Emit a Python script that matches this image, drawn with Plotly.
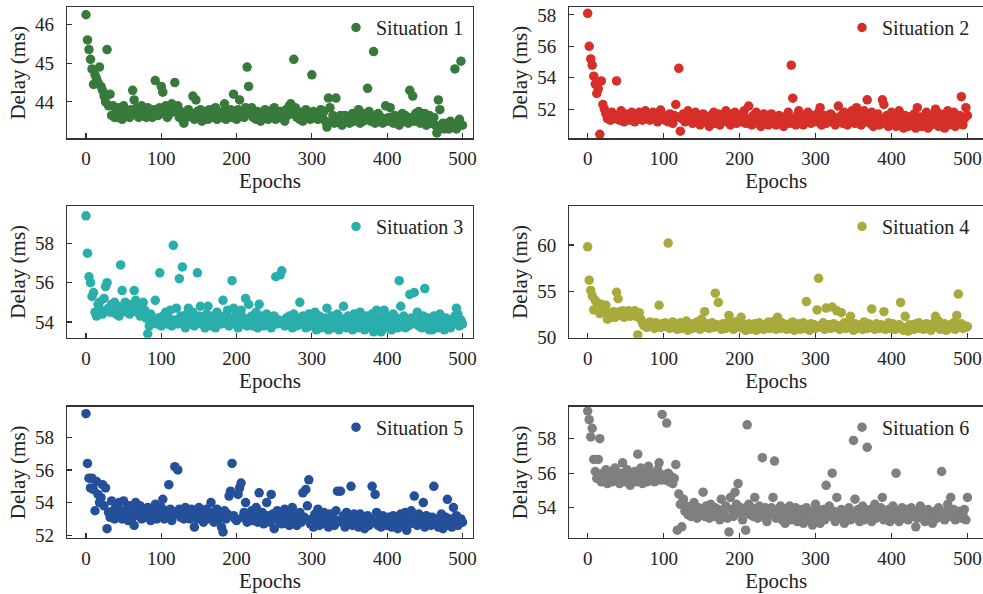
import plotly.graph_objects as go

epochs = list(range(0, 501, 2))

s1 = [46.25, 45.6, 45.35, 45.1, 44.85, 44.45, 44.7, 44.6, 44.5, 44.9,
      44.4, 44.3, 44.15, 44.0, 45.35, 43.9, 44.2, 43.65, 43.9, 43.6,
      43.75, 43.6, 43.85, 43.7, 43.55, 43.9, 43.8, 43.65, 43.75, 43.6,
      43.8, 44.3, 44.05, 43.7, 43.85, 43.6, 43.75, 43.9, 43.65, 43.8,
      43.6, 43.85, 43.7, 43.75, 43.6, 43.8, 44.55, 43.7, 43.65, 43.85,
      44.4, 44.25, 43.7, 43.9, 43.6, 43.85, 43.7, 43.95, 43.75, 44.5,
      43.8, 43.9, 43.6, 43.75, 43.55, 43.45, 43.7, 43.6, 43.8, 43.65,
      43.7, 44.15, 43.55, 44.05, 43.75, 43.6, 43.8, 43.5, 43.7, 43.65,
      43.75, 43.55, 43.8, 43.65, 43.7, 43.6, 43.85, 43.55, 43.7, 43.65,
      43.6, 43.75, 43.95, 43.55, 43.7, 43.65, 43.8, 43.6, 44.2, 43.7,
      43.55, 43.8, 44.05, 43.65, 43.75, 43.6, 43.85, 44.9, 44.4, 43.7,
      43.85, 43.6, 43.7, 43.55, 43.75, 43.65, 43.5, 43.7, 43.6, 43.8,
      43.65, 43.55, 43.75, 43.6, 43.7, 43.85, 43.55, 43.65, 43.6, 43.75,
      43.6, 43.7, 43.5, 43.8, 43.65, 43.9, 43.95, 43.7, 45.1, 43.85,
      43.6, 43.75, 43.55, 43.7, 43.5, 43.65, 43.8, 43.6, 43.7, 43.55,
      44.7, 43.75, 43.6, 43.7, 43.55, 43.65, 43.8, 43.6, 43.75, 43.5,
      43.35, 44.1, 43.85, 43.5, 43.65, 43.45, 44.1, 43.6, 43.5, 43.65,
      43.4, 43.55, 43.65, 43.5, 43.6, 43.45, 43.55, 43.7, 43.5, 43.6,
      43.55, 43.8, 43.45, 43.6, 43.5, 43.7, 43.55, 44.35, 43.75, 43.5,
      43.6, 45.3, 43.45, 43.55, 43.7, 43.5, 43.6, 43.45, 43.55, 43.9,
      43.5, 43.6, 43.85, 43.55, 43.45, 43.65, 43.5, 43.6, 43.4, 43.55,
      43.7, 43.5, 43.65, 43.55, 43.45, 44.3, 43.6, 44.15, 43.5, 43.7,
      43.55, 43.75, 43.45, 43.6, 43.5, 43.7, 43.4, 43.55, 43.65, 43.45,
      43.5, 43.6, 43.4, 43.2, 44.05, 43.8, 43.35, 43.45, 43.3, 43.4,
      43.45, 43.3, 43.5, 43.35, 43.4, 44.85, 43.3, 43.45, 43.55, 45.05,
      43.4]

s2 = [58.1, 56.0, 55.2, 54.8, 54.1, 53.6, 53.0, 53.3, 50.4, 53.8,
      52.3, 52.0, 51.7, 51.4, 51.6, 51.3, 51.8, 51.5, 51.4, 53.8,
      51.6, 51.3, 51.9, 51.5, 51.2, 51.7, 51.4, 51.6, 51.3, 51.8,
      51.5, 51.2, 51.7, 51.4, 51.8, 51.5, 51.3, 51.6, 51.9, 51.4,
      51.6, 51.3, 51.5, 51.8, 51.4, 51.6, 51.2, 51.5, 51.95, 51.4,
      51.6, 51.3, 51.5, 51.2, 51.7, 51.4, 51.1, 51.6, 52.3, 51.5,
      54.6, 50.6, 51.4, 51.7, 51.2, 51.5, 51.9, 51.3, 51.6, 51.1,
      51.5, 51.8, 51.3, 51.6, 51.0, 51.4, 51.7, 51.2, 51.5, 51.3,
      50.9, 51.6, 51.3, 51.8, 51.1, 51.4, 51.7, 51.0, 51.5, 51.3,
      51.6, 51.9, 51.2, 51.5, 51.0, 51.7, 51.3, 51.8, 51.1, 51.4,
      51.6, 51.2, 51.5, 51.9, 51.1, 51.4, 52.2, 51.3, 51.0, 51.6,
      51.4, 51.8, 51.1, 51.5, 50.9, 51.3, 51.7, 51.2, 51.5, 51.0,
      51.4, 51.7, 51.2, 51.5, 51.0, 51.3, 51.6, 51.1, 51.4, 50.9,
      51.5, 51.2, 51.8, 51.1, 54.8, 52.7, 51.4, 51.0, 51.6, 51.9,
      51.3, 51.6, 51.0, 51.5, 51.2, 51.8, 51.4, 51.1, 51.6, 51.3,
      51.5, 51.2, 51.8, 52.1, 51.0, 51.4, 51.6, 51.1, 51.5, 51.3,
      51.7, 51.2, 51.5, 51.0, 51.4, 52.2, 51.3, 51.6, 51.1, 51.8,
      51.4, 51.0, 51.6, 51.2, 51.9, 51.5, 51.1, 52.1, 51.3, 51.7,
      51.0, 51.5, 51.9, 51.2, 52.6, 51.4, 51.1, 51.8, 50.9, 51.5,
      51.2, 51.7, 51.0, 51.4, 52.6, 52.3, 51.1, 51.6, 50.9, 51.3,
      51.8, 51.1, 51.5, 50.9, 51.3, 51.9, 51.0, 51.4, 50.8, 51.6,
      51.2, 50.9, 51.5, 51.0, 51.3, 51.7, 50.8, 52.1, 51.2, 51.5,
      50.9, 51.4, 51.1, 51.8, 50.8, 51.3, 51.0, 51.6, 51.2, 52.0,
      51.4, 50.9, 51.7, 51.1, 51.5, 50.8, 51.3, 51.9, 51.0, 51.4,
      51.2, 51.8, 50.9, 51.5, 51.1, 51.6, 52.8, 51.0, 51.4, 52.1,
      51.6]

s3 = [59.4, 57.5, 56.3, 56.0, 55.3, 55.5, 54.5, 54.3, 54.9, 55.0,
      54.6, 54.4, 55.2, 55.8, 56.0, 54.7, 54.5, 54.9, 54.6, 55.0,
      54.4, 54.8, 54.3, 56.9, 55.6, 54.7, 55.0, 54.5, 54.9, 54.4,
      54.8, 54.6, 55.6, 55.1, 54.5, 54.9, 54.3, 54.7, 55.0, 54.6,
      54.2, 53.4, 53.8, 54.4, 54.0, 54.1, 55.1, 53.9, 54.2, 56.5,
      53.8, 54.3, 54.0, 54.5, 53.9, 54.2, 54.6, 53.8, 57.9, 54.1,
      54.7, 53.9, 56.2, 54.3, 56.8, 54.0, 53.7, 54.4, 54.7, 53.9,
      54.2, 54.5, 53.8, 54.1, 56.5, 54.3, 54.8, 53.9, 54.2, 53.7,
      54.4, 54.8, 54.0, 53.8, 54.3, 54.1, 53.7, 54.5, 54.0, 54.2,
      53.9, 55.1, 54.3, 54.0, 54.6, 53.8, 54.2, 56.1, 54.7, 53.9,
      54.4, 53.7, 54.1, 54.6, 53.9, 54.2, 55.2, 53.8, 54.9, 54.0,
      54.3, 53.8, 54.1, 54.5, 53.7, 54.9, 54.0, 54.3, 53.8, 54.1,
      54.4, 53.9, 54.2, 53.7, 54.0, 54.3, 56.3, 53.9, 54.1, 56.4,
      56.6, 54.0, 53.8, 54.2, 53.9, 54.3, 54.0, 53.7, 54.4, 54.1,
      53.8, 54.2, 55.0, 53.9, 54.3, 54.0, 53.7, 54.1, 54.4, 53.8,
      54.2, 53.9, 54.5, 53.6, 54.0, 54.3, 53.7, 54.1, 53.8, 54.2,
      54.7, 53.6, 54.0, 54.3, 53.7, 54.1, 53.9, 54.4, 53.6, 54.2,
      53.8, 54.8, 54.0, 53.7, 54.3, 53.9, 54.1, 53.6, 54.4, 53.8,
      54.2, 53.7, 54.5, 53.9, 54.1, 53.6, 54.3, 53.8, 54.0, 53.7,
      54.4, 53.5, 54.0, 54.6, 53.6, 54.2, 53.5, 53.9, 54.6, 53.7,
      54.3, 53.8, 54.1, 53.6, 54.4, 53.9, 54.2, 53.7, 56.1, 54.8,
      53.9, 54.3, 53.7, 54.1, 53.8, 55.4, 54.2, 53.9, 55.5, 54.0,
      54.5, 53.8, 54.1, 53.7, 54.3, 55.7, 53.9, 54.2, 53.6, 54.0,
      53.6, 54.3, 53.9, 54.1, 53.7, 54.4, 53.8, 54.0, 53.6, 54.2,
      53.8, 54.1, 53.7, 54.0, 53.9, 54.3, 54.7, 54.4, 53.8, 54.1,
      53.9]

s4 = [59.8, 56.2, 55.1, 54.5, 53.0, 54.0, 53.8, 53.2, 52.6, 53.6,
      53.2, 52.8, 53.5, 52.0, 52.4, 52.6, 52.2, 52.8, 52.2, 54.9,
      54.2, 52.8, 52.4, 52.9, 52.2, 52.7, 52.5, 52.9, 52.3, 52.8,
      52.5, 52.9, 52.3, 50.3, 52.7, 52.0, 51.6, 51.3, 51.5, 51.1,
      51.4, 51.7, 51.2, 51.5, 51.0, 51.6, 51.3, 53.5, 51.1, 51.5,
      51.2, 51.6, 51.4, 60.2, 51.0, 51.3, 51.7, 51.1, 51.4, 50.9,
      51.3, 51.6, 51.0, 51.4, 51.2, 51.8, 50.8, 51.3, 51.5, 51.0,
      51.4, 51.1, 51.7, 51.2, 50.9, 52.0, 51.3, 52.8, 51.1, 51.5,
      51.0, 51.3, 51.6, 51.1, 54.8, 51.4, 53.8, 51.2, 50.9, 51.5,
      51.3, 51.0, 51.6, 52.4, 51.2, 51.4, 50.9, 51.7, 51.1, 51.3,
      51.6, 52.2, 51.0, 51.4, 50.8, 51.2, 51.5, 50.9, 51.3, 51.1,
      51.5, 50.8, 51.2, 51.6, 51.0, 51.3, 50.9, 51.4, 51.1, 51.7,
      51.0, 51.5, 51.2, 51.8, 50.9, 52.2, 51.3, 51.0, 51.6, 51.2,
      51.4, 50.9, 51.1, 51.5, 51.0, 51.7, 50.8, 51.3, 51.1, 51.5,
      50.9, 51.2, 51.6, 51.0, 53.9, 51.3, 50.8, 51.5, 51.1, 51.4,
      51.0, 53.0, 56.4, 51.3, 51.1, 51.6, 50.9, 53.2, 51.2, 51.4,
      51.0, 53.3, 51.5, 51.1, 52.9, 51.3, 50.9, 52.7, 51.2, 51.6,
      51.0, 51.4, 51.1, 52.3, 51.2, 50.8, 51.5, 51.0, 51.3, 51.1,
      51.4, 50.9, 51.7, 51.2, 51.0, 51.5, 51.1, 53.1, 51.3, 50.9,
      51.5, 51.2, 51.0, 51.4, 51.1, 52.8, 50.9, 51.3, 51.6, 51.0,
      51.2, 51.5, 50.9, 51.3, 51.0, 51.4, 53.8, 51.1, 50.8, 52.3,
      51.1, 50.7, 51.4, 51.0, 51.3, 50.9, 51.5, 51.2, 51.6, 51.0,
      51.3, 50.9, 51.2, 51.5, 51.0, 51.4, 50.8, 51.1, 51.6, 52.3,
      51.2, 51.8, 50.9, 51.3, 51.0, 51.5, 50.8, 51.2, 51.0, 51.4,
      51.1, 51.6, 50.9, 52.4, 54.7, 51.2, 51.5, 51.0, 51.3, 51.1,
      51.2]

s5 = [59.45, 56.4, 55.5, 54.9, 55.5, 54.8, 53.5, 55.3, 54.5, 54.0,
      54.3, 55.1, 53.8, 54.9, 52.4, 53.4, 53.1, 54.1, 53.5, 53.0,
      53.7, 53.2, 54.0, 53.5, 53.0, 54.1, 53.3, 53.6, 52.9, 53.8,
      53.4, 53.1, 52.6, 54.0, 53.5, 53.2, 53.8, 53.0, 53.6, 53.3,
      53.1, 53.7, 53.4, 52.9, 53.6, 53.2, 53.9, 53.0, 53.5, 53.3,
      53.7, 54.2, 53.0, 53.5, 53.2, 55.1, 53.6, 52.9, 53.4, 56.2,
      53.3, 56.0, 53.6, 53.1, 53.4, 53.0, 53.7, 53.2, 53.5, 53.0,
      53.6, 53.2, 52.5, 53.4, 53.0, 53.7, 53.1, 53.5, 52.8, 53.3,
      53.6, 53.0, 53.2, 54.0, 53.4, 52.8, 53.1, 53.6, 53.0, 53.3,
      52.5, 52.2, 53.5, 53.0, 53.3, 54.4, 54.7, 56.4, 53.2, 53.0,
      52.9, 54.5, 54.9, 55.2, 53.1, 53.4, 54.0, 52.8, 53.3, 53.0,
      53.5, 52.9, 53.2, 53.7, 52.8, 54.6, 53.1, 53.4, 52.7, 53.0,
      54.0, 53.2, 52.8, 54.5, 53.3, 52.4, 53.0, 53.5, 52.9, 53.2,
      52.7, 53.1, 53.6, 52.8, 53.3, 52.6, 53.0, 53.7, 52.9, 53.2,
      52.6, 53.0, 53.4, 52.8, 54.6, 53.1, 54.8, 53.8, 55.4, 52.7,
      53.0, 52.5, 53.3, 52.9, 53.6, 52.6, 53.1, 52.8, 53.4, 52.7,
      53.0, 52.5, 53.3, 52.8, 53.1, 52.6, 53.5, 54.7, 52.9, 54.7,
      52.8, 53.2, 52.5, 53.4, 52.9, 53.1, 55.0, 52.6, 53.3, 52.8,
      53.0, 52.5, 53.3, 52.7, 53.1, 52.4, 52.9, 53.2, 52.6, 53.0,
      55.0, 52.8, 54.5, 53.4, 52.6, 53.0, 52.5, 53.2, 52.7, 53.0,
      52.6, 53.1, 52.8, 52.5, 53.2, 52.7, 53.0, 52.4, 52.9, 53.3,
      52.6, 52.9, 53.4, 52.3, 53.0, 52.7, 53.5, 52.8, 54.4, 53.1,
      52.6, 53.3, 52.8, 53.0, 54.0, 52.5, 53.2, 52.7, 53.0, 52.6,
      53.1, 55.0, 52.7, 53.0, 52.5, 52.9, 53.3, 52.4, 52.8, 53.1,
      54.2, 52.6, 53.0, 52.5, 53.7, 52.8, 53.2, 52.6, 52.9, 53.0,
      52.8]

s6 = [59.6, 59.1, 58.1, 58.6, 56.8, 56.1, 55.7, 56.8, 58.0, 55.5,
      56.0, 55.6, 56.2, 55.4, 55.9, 56.1, 55.5, 55.8, 56.3, 55.6,
      55.9, 55.4, 56.0, 56.6, 55.7, 55.5, 56.2, 55.8, 55.3, 56.0,
      55.6, 56.1, 55.5, 57.1, 55.9, 56.3, 55.4, 55.8, 56.1, 55.5,
      56.4, 55.7, 55.9, 56.0, 55.5, 55.8, 56.2, 56.6, 55.6, 59.4,
      55.9, 55.6, 58.9, 56.0, 55.5, 55.8, 55.4, 55.7, 56.5, 52.7,
      54.8, 54.2, 52.9, 54.5, 53.8, 54.1, 53.6, 54.0, 53.5, 53.9,
      54.3, 53.7, 53.4, 54.0, 53.6, 53.9, 54.9, 53.5, 54.1, 53.7,
      53.4, 54.2, 53.8, 53.5, 54.0, 53.6, 53.9, 53.3, 54.5, 53.8,
      53.6, 54.1, 53.4, 52.6, 54.6, 53.9, 53.5, 54.9, 54.2, 55.4,
      53.7, 54.0, 53.3, 53.8, 52.7, 58.8, 54.2, 53.6, 54.0, 53.5,
      54.6, 53.8, 53.4, 54.1, 53.7, 56.9, 53.5, 54.0, 53.2, 53.8,
      53.6, 54.0, 54.6, 56.7, 53.4, 53.9, 53.6, 54.1, 53.3, 53.7,
      53.1, 53.9, 53.5, 54.1, 53.3, 53.8, 53.6, 54.0, 53.2, 53.7,
      53.4, 53.9, 53.1, 53.6, 54.0, 53.3, 53.8, 53.5, 53.0, 53.7,
      54.2, 53.4, 53.8, 53.1, 53.6, 53.9, 53.3, 55.3, 53.7, 54.1,
      53.5, 56.0, 53.8, 53.2, 54.6, 53.7, 53.4, 53.9, 53.6, 53.1,
      53.8, 53.5, 54.0, 53.3, 53.7, 57.9, 54.5, 53.4, 53.9, 53.2,
      53.6, 54.1, 53.3, 53.8, 57.5, 53.5, 53.9, 53.2, 53.7, 54.2,
      53.4, 53.8, 53.5, 54.0, 54.6, 53.3, 53.7, 53.5, 53.9, 53.2,
      53.6, 54.1, 53.4, 56.0, 53.8, 53.2, 53.7, 54.0, 53.4, 53.6,
      53.9, 53.3, 53.7, 54.0, 53.5, 53.8, 52.9, 53.4, 53.7, 54.1,
      53.5, 53.8, 53.2, 53.6, 53.9, 53.4, 53.7, 53.1, 53.6, 53.8,
      53.4, 54.0, 53.5, 56.1, 53.7, 53.3, 53.8, 54.2, 53.5, 54.6,
      53.6, 53.9, 53.3, 53.7, 53.5, 53.8, 53.4, 53.6, 53.9, 53.3,
      54.6]

names = ["Situation 1", "Situation 2", "Situation 3", "Situation 4", "Situation 5", "Situation 6"]
series = [s1, s2, s3, s4, s5, s6]
colors = ["#377a3b", "#d62f2a", "#2aaeac", "#a9aa3c", "#24509a", "#7f7f7f"]
y_ranges = [[43.06, 46.45], [50.15, 58.5], [53.2, 59.9], [50.0, 64.2], [51.83, 59.88], [52.25, 59.85]]
y_ticks = [[44, 45, 46], [52, 54, 56, 58], [54, 56, 58], [50, 55, 60], [52, 54, 56, 58], [54, 56, 58]]
x_ticks = [0, 100, 200, 300, 400, 500]
x_ranges = [[-25.2, 514.0], [-24.2, 520.5]]

W, H = 983, 594
ML, MR, MT, MB = 67, 0, 7, 56
PW, PH = W - ML - MR, H - MT - MB
x_doms = [[0.0, (473 - ML) / PW], [(569.3 - ML) / PW, 1.0]]
y_doms = [[(538 - 138.3) / PH, 1.0],
          [(538 - 337.7) / PH, (538 - 206) / PH],
          [0.0, (538 - 406.7) / PH]]

FONT = "Liberation Serif"
AX = "#333333"
TXT = "#222222"

fig = go.Figure()
layout = dict(
    width=W, height=H,
    margin=dict(l=ML, r=MR, t=MT, b=MB, autoexpand=False),
    paper_bgcolor="white", plot_bgcolor="white",
    font=dict(family=FONT, size=19, color=TXT),
    showlegend=True,
    hovermode=False,
)

for i in range(6):
    r, c = divmod(i, 2)
    k = "" if i == 0 else str(i + 1)
    lg = "legend" if i == 0 else "legend" + str(i + 1)
    fig.add_trace(go.Scatter(
        x=epochs, y=series[i], mode="markers", name=names[i],
        marker=dict(color=colors[i], size=9.5, line=dict(width=0)),
        xaxis="x" + k, yaxis="y" + k, legend=lg,
    ))
    layout["xaxis" + k] = dict(
        domain=x_doms[c], anchor="y" + k, range=x_ranges[c],
        tickvals=x_ticks, ticks="inside", ticklen=5, tickwidth=1.2, tickcolor=AX,
        showline=True, linecolor=AX, linewidth=1.3, mirror=True,
        showgrid=False, zeroline=False, automargin=False,
        ticklabelstandoff=3,
        title=dict(text="Epochs", standoff=2, font=dict(size=21)),
        tickfont=dict(size=19),
    )
    layout["yaxis" + k] = dict(
        domain=y_doms[r], anchor="x" + k, range=y_ranges[i],
        tickvals=y_ticks[i], ticks="inside", ticklen=5, tickwidth=1.2, tickcolor=AX,
        showline=True, linecolor=AX, linewidth=1.3, mirror=(c == 0),
        showgrid=False, zeroline=False, automargin=False,
        ticklabelstandoff=8,
        title=dict(text="Delay (ms)", standoff=3, font=dict(size=21)),
        tickfont=dict(size=19),
    )
    layout[lg] = dict(
        x=x_doms[c][1] - (4 if c == 0 else 8) / PW, xanchor="right",
        y=y_doms[r][1] - 1 / PH, yanchor="top",
        bgcolor="rgba(0,0,0,0)", borderwidth=0,
        font=dict(family=FONT, size=20, color=TXT),
        itemwidth=30,
    )

fig.update_layout(**layout)
fig.write_html(
    "out.html",
    config={"displayModeBar": False, "staticPlot": True},
    post_script="document.body.style.margin='0';document.body.style.overflow='hidden';",
)
